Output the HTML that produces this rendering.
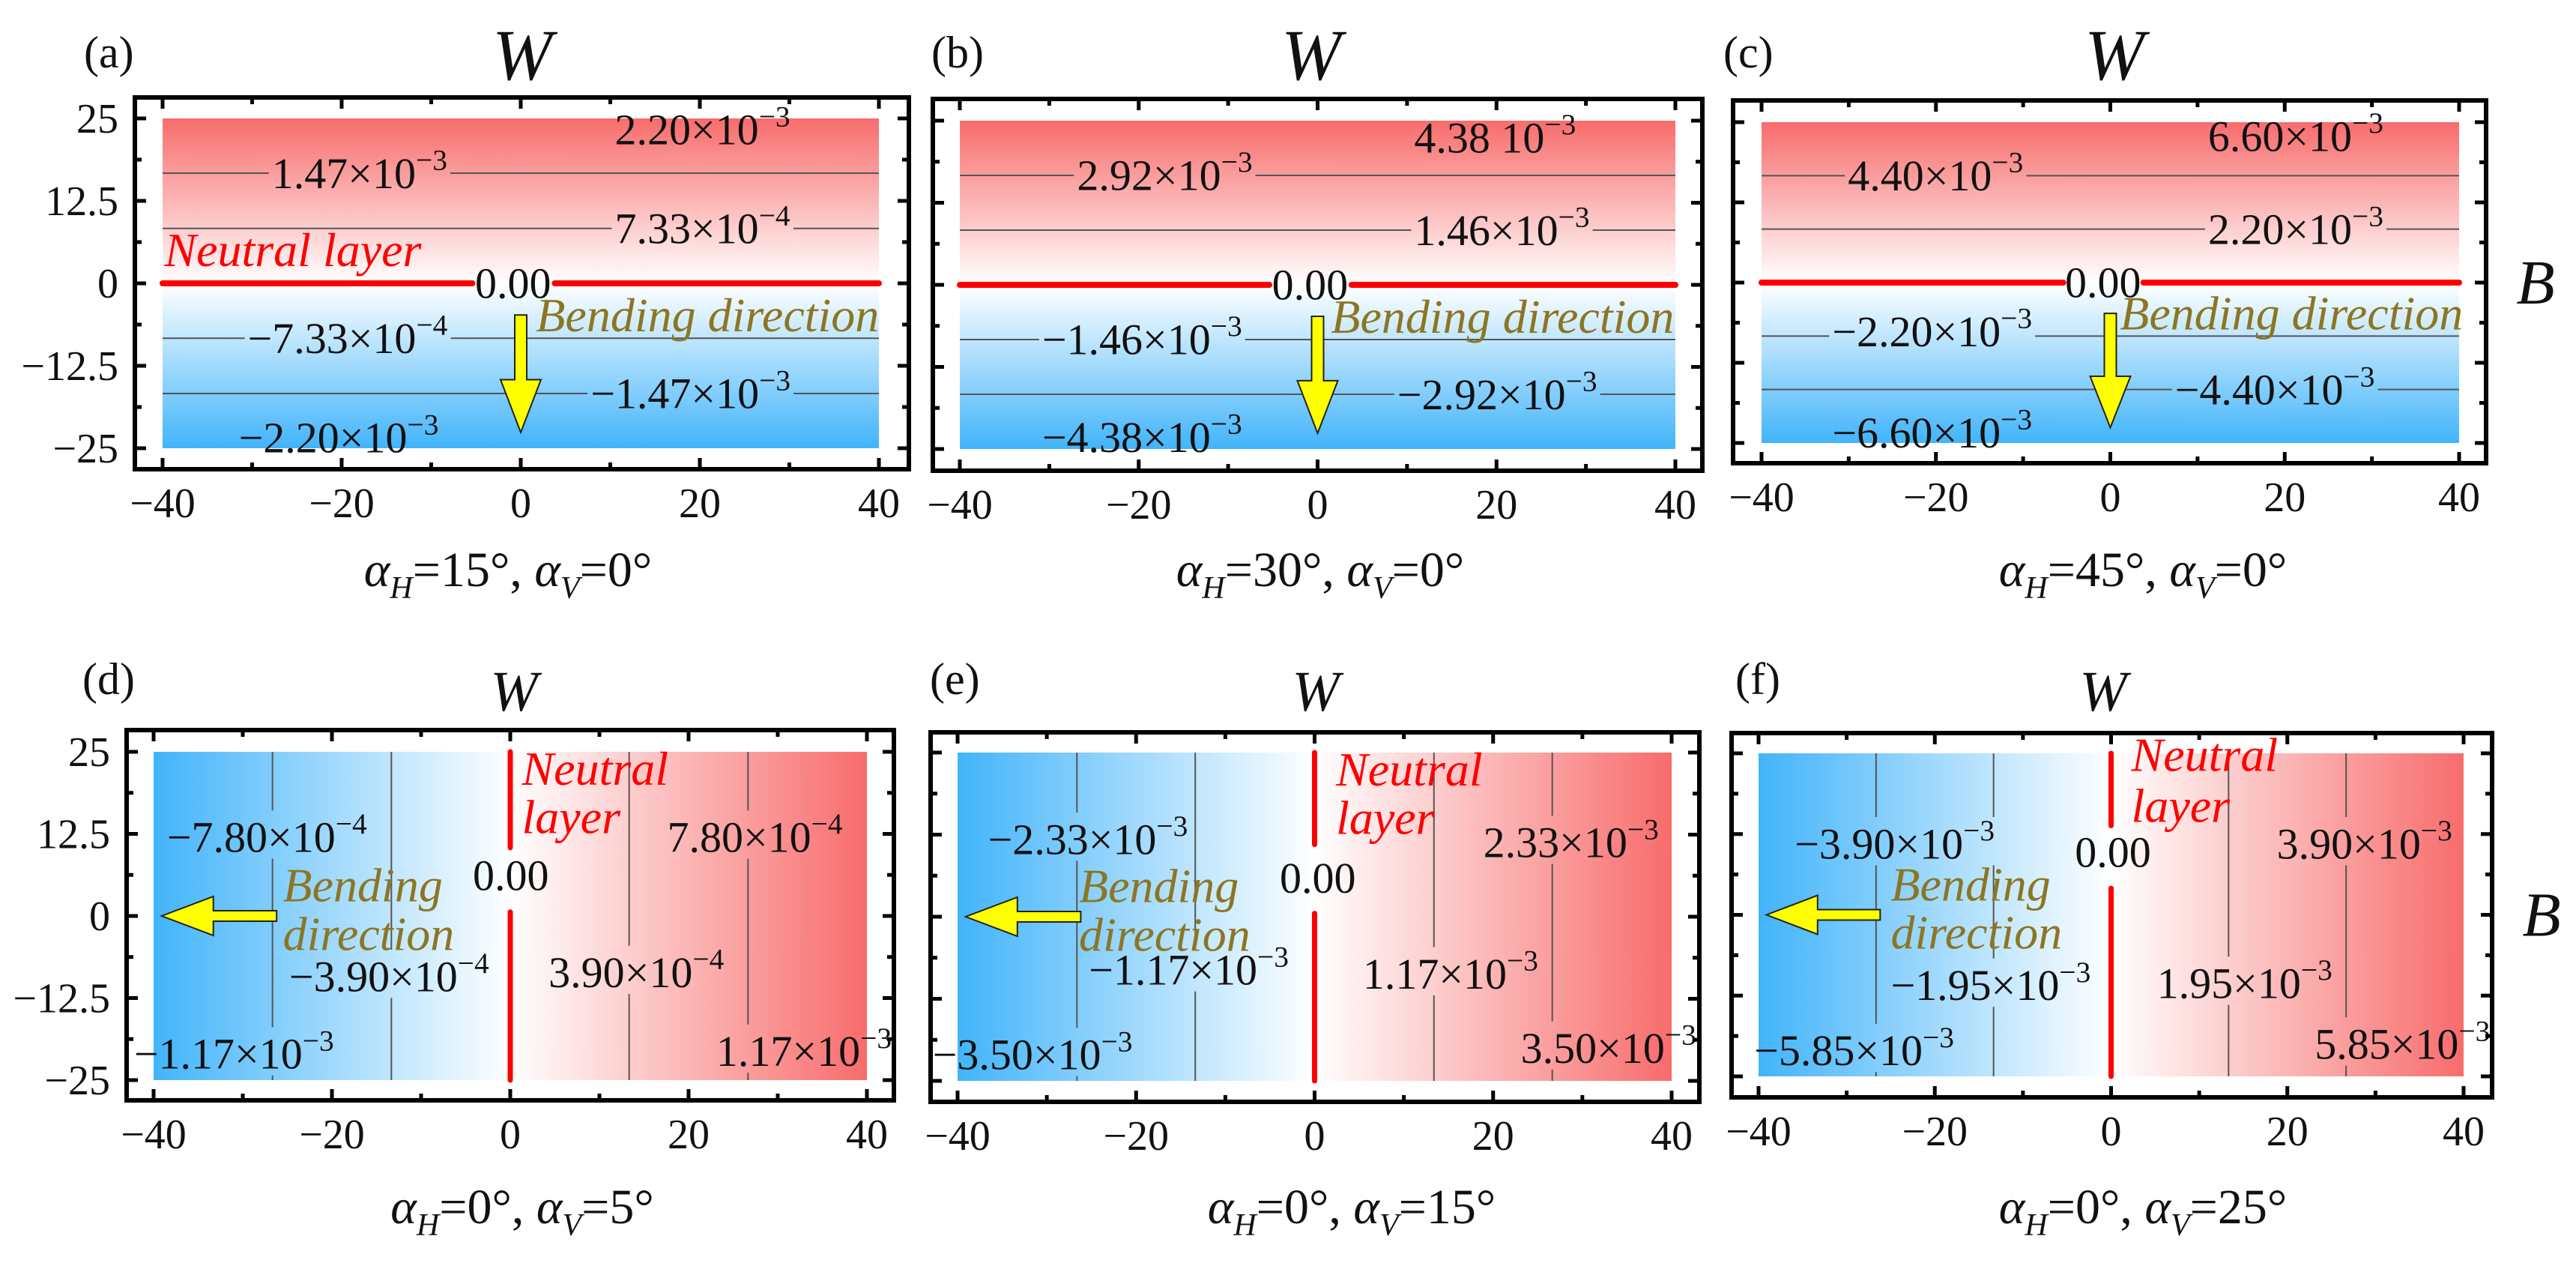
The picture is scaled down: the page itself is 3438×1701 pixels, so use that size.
<!DOCTYPE html>
<html><head><meta charset="utf-8">
<style>
html,body{margin:0;padding:0;background:#fff;}
svg, svg text{font-family:"Liberation Serif","Times New Roman",serif;}
</style></head>
<body>
<svg id="fig" xmlns="http://www.w3.org/2000/svg" width="3438" height="1696" viewBox="0 0 3438 1696" font-family="Liberation Serif, serif"></svg>
<script>
// ---------- data ----------
const panelLetters = ['a','b','c','d','e','f'];
const panelAlphaH = [15, 30, 45, 0, 0, 0];
const panelAlphaV = [0, 0, 0, 5, 15, 25];
const maxW = [2.20e-3, 4.38e-3, 6.60e-3, 1.17e-3, 3.50e-3, 5.85e-3];
const levelsA = [-1.47e-3, -7.33e-4, 7.33e-4, 1.47e-3];
const levelsB = [-2.92e-3, -1.46e-3, 1.46e-3, 2.92e-3];
const levelsC = [-4.40e-3, -2.20e-3, 2.20e-3, 4.40e-3];
const levelsD = [-7.80e-4, -3.90e-4, 3.90e-4, 7.80e-4];
const levelsE = [-2.33e-3, -1.17e-3, 1.17e-3, 2.33e-3];
const levelsF = [-3.90e-3, -1.95e-3, 1.95e-3, 3.90e-3];
const labelsA = [['2.20×10','−3',10.5,23.3],['1.47×10','−3',-27.8,16.7],['7.33×10','−4',10.5,8.3],['0.00','',-5.1,0],['−7.33×10','−4',-30.5,-8.3],['−1.47×10','−3',7.8,-16.7],['−2.20×10','−3',-31.5,-23.4]];
const labelsB = [['4.38  10','−3',10.8,22.4],['2.92×10','−3',-26.9,16.7],['1.46×10','−3',10.8,8.3],['0.00','',-5.1,0],['−1.46×10','−3',-30.8,-8.3],['−2.92×10','−3',8.9,-16.7],['−4.38×10','−3',-30.8,-23.2]];
const labelsC = [['6.60×10','−3',11.2,22.8],['4.40×10','−3',-30.1,16.7],['2.20×10','−3',11.2,8.3],['0.00','',-5.2,0],['−2.20×10','−3',-31.9,-7.6],['−4.40×10','−3',7.4,-16.7],['−6.60×10','−3',-31.9,-23.4]];
const labelsD = [['−7.80×10','−4',-38.5,12.0],['7.80×10','−4',17.6,12.0],['0.00','',-4.2,6.2],['−3.90×10','−4',-24.8,-9.2],['3.90×10','−4',4.3,-8.6],['−1.17×10','−3',-42.2,-21],['1.17×10','−3',23.1,-20.6]];
const labelsE = [['−2.33×10','−3',-36.6,11.8],['2.33×10','−3',18.9,11.3],['0.00','',-3.9,5.9],['−1.17×10','−3',-25.3,-8.1],['1.17×10','−3',5.4,-8.7],['−3.50×10','−3',-42.8,-21],['3.50×10','−3',23.1,-20]];
const labelsF = [['−3.90×10','−3',-35.9,11.0],['3.90×10','−3',18.8,11.0],['0.00','',-4.1,9.7],['−1.95×10','−3',-25.0,-10.9],['1.95×10','−3',5.2,-10.6],['−5.85×10','−3',-40.5,-21],['5.85×10','−3',23.1,-20]];
const xTicks = [-40, -20, 0, 20, 40];
const yTicks = [25, 12.5, 0, -12.5, -25];
const yTickLabels = ['25', '12.5', '0', '−12.5', '−25'];
const xTickLabels = ['−40', '−20', '0', '20', '40'];

// ---------- layout ----------
const layout = [
 {f:[180,130,1213,626], x0:217, x1:1173, yt:158, yb:598, row:0},
 {f:[1245,132,2272,628], x0:1281, x1:2236, yt:161, yb:599, row:0},
 {f:[2313,134,3318,618], x0:2351, x1:3282, yt:163, yb:591, row:0},
 {f:[169,974,1193,1468], x0:205, x1:1157, yt:1003, yb:1441, row:1},
 {f:[1242,977,2268,1470], x0:1278, x1:2231, yt:1004, yb:1442, row:1},
 {f:[2311,978,3326,1464], x0:2347, x1:3288, yt:1005, yb:1436, row:1}
];
const allLevels = [levelsA, levelsB, levelsC, levelsD, levelsE, levelsF];
const allLabels = [labelsA, labelsB, labelsC, labelsD, labelsE, labelsF];
const titleX = [697, 1750, 2822, 686, 1756, 2807];
const letterX = [112, 1243, 2300, 110, 1241, 2316];
const xlabX = [678, 1762, 2860, 697, 1804, 2860];
const FONT = 'Liberation Serif, serif';

const NS = 'http://www.w3.org/2000/svg';
const svg = document.getElementById('fig');
const defs = document.createElementNS(NS, 'defs');
svg.appendChild(defs);
function mk(tag, attrs, parent) {
  const e = document.createElementNS(NS, tag);
  for (const k in attrs) e.setAttribute(k, attrs[k]);
  if (tag === 'text') e.setAttribute('font-family', FONT);
  (parent || svg).appendChild(e);
  return e;
}

layout.forEach((L, i) => {
  const sx = v => L.x0 + (v + 40) / 80 * (L.x1 - L.x0);
  const sy = v => L.yt + (25 - v) / 50 * (L.yb - L.yt);
  const horiz = L.row === 0;
  const g = mk('g', {});
  
  

  const gid = 'grad' + i;
  const grad = mk('linearGradient', horiz ?
    {id: gid, gradientUnits: 'userSpaceOnUse', x1: 0, y1: sy(25), x2: 0, y2: sy(-25)} :
    {id: gid, gradientUnits: 'userSpaceOnUse', x1: sx(-40), y1: 0, x2: sx(40), y2: 0}, defs);
  const stops = horiz ?
    [[0,'rgb(248,108,108)'],[0.5,'#ffffff'],[1,'rgb(66,180,250)']] :
    [[0,'rgb(66,180,250)'],[0.5,'#ffffff'],[1,'rgb(248,108,108)']];
  stops.forEach(s => mk('stop', {offset: s[0], 'stop-color': s[1]}, grad));
  const fill = mk('rect', {x: sx(-40), y: sy(25), width: sx(40) - sx(-40), height: sy(-25) - sy(25), fill: 'url(#' + gid + ')'}, g);
  
  

  const lblG = mk('g', {});
  const maskId = 'mask' + i;
  const mask = mk('mask', {id: maskId, maskUnits: 'userSpaceOnUse', x: 0, y: 0, width: 3438, height: 1696}, defs);
  mk('rect', {x: 0, y: 0, width: 3438, height: 1696, fill: '#fff'}, mask);
  const fs = 58;
  allLabels[i].forEach(lb => {
    const t = mk('text', {x: sx(lb[2]), y: sy(lb[3]) + fs * 0.34, 'font-size': fs, fill: '#111'}, lblG);
    
    
    t.appendChild(document.createTextNode(lb[0]));
    if (lb[1]) {
      const sp = mk('tspan', {dy: -fs * 0.42, 'font-size': fs * 0.68}, t);
      sp.textContent = lb[1];
    }
    const bb = t.getBBox();
    mk('rect', {x: bb.x - 4, y: bb.y + 4, width: bb.width + 8, height: bb.height - 8, fill: '#000'}, mask);
  });

  const lineG = mk('g', {mask: 'url(#' + maskId + ')'}, g);
  allLevels[i].forEach(lv => {
    const pos = lv / maxW[i] * (horiz ? 25 : 40);
    const ln = horiz ?
      mk('line', {x1: sx(-40), x2: sx(40), y1: sy(pos), y2: sy(pos), stroke: '#555', 'stroke-width': 2}, lineG) :
      mk('line', {x1: sx(pos), x2: sx(pos), y1: sy(25), y2: sy(-25), stroke: '#555', 'stroke-width': 2}, lineG);
    
    
  });

  if (horiz) {
    [[-40,-5.4],[3.8,40]].forEach(s => {
      const r = mk('line', {x1: sx(s[0]), x2: sx(s[1]), y1: sy(0), y2: sy(0), stroke: '#ff0000', 'stroke-width': 8, 'stroke-linecap': 'round'}, g);
      
      
    });
  } else {
    const gapTop = [10.4, 11.0, 13.8][i - 3];
    const gapBot = [0.6, 0.5, 4.1][i - 3];
    [[25, gapTop],[gapBot, -25]].forEach(s => {
      const r = mk('line', {x1: sx(0), x2: sx(0), y1: sy(s[0]), y2: sy(s[1]), stroke: '#ff0000', 'stroke-width': 7, 'stroke-linecap': 'round'}, g);
      
      
    });
  }
  g.appendChild(lblG);

  const ann = 64;
  if (horiz) {
    if (i === 0) {
      const nl = mk('text', {x: sx(-39.8), y: sy(2.6), 'font-size': ann, 'font-style': 'italic', fill: '#ff0000'}, g);
      nl.textContent = 'Neutral layer';
      
      
    }
    const bdx = [1.7, 1.5, 1.1][i];
    const bd = mk('text', {x: sx(bdx), y: sy(-7.3), 'font-size': ann, 'font-style': 'italic', fill: 'rgb(140,118,35)'}, g);
    bd.textContent = 'Bending direction';
    
    
    const cx = sx(0), yt = sy(-4.8), yh = sy(-14.6), tip = sy(-22.6);
    const ar = mk('polygon', {points: `${cx-8},${yt} ${cx+8},${yt} ${cx+8},${yh} ${cx+27},${yh} ${cx},${tip} ${cx-27},${yh} ${cx-8},${yh}`, fill: '#ffff00', stroke: '#222', 'stroke-width': 2}, g);
    
    
  } else {
    const nx = [1.3, 2.4, 2.3][i - 3];
    const nb1 = [20, 20, 22.3][i - 3], nb2 = [12.6, 12.6, 14.4][i - 3];
    const n1 = mk('text', {x: sx(nx), y: sy(nb1), 'font-size': ann, 'font-style': 'italic', fill: '#ff0000'}, g);
    n1.textContent = 'Neutral';
    
    
    const n2 = mk('text', {x: sx(nx), y: sy(nb2), 'font-size': ann, 'font-style': 'italic', fill: '#ff0000'}, g);
    n2.textContent = 'layer';
    
    
    const bx = [-25.5, -26.4, -25][i - 3];
    const b1 = mk('text', {x: sx(bx), y: sy(2.2), 'font-size': ann, 'font-style': 'italic', fill: 'rgb(140,118,35)'}, g);
    b1.textContent = 'Bending';
    
    
    const b2 = mk('text', {x: sx(bx), y: sy(-5.2), 'font-size': ann, 'font-style': 'italic', fill: 'rgb(140,118,35)'}, g);
    b2.textContent = 'direction';
    
    
    const cy = sy(0), xt = sx(-26.2), xh = sx(-33.3), tip = sx(-39.1);
    const ar = mk('polygon', {points: `${xt},${cy-7} ${xt},${cy+7} ${xh},${cy+7} ${xh},${cy+26} ${tip},${cy} ${xh},${cy-26} ${xh},${cy-7}`, fill: '#ffff00', stroke: '#222', 'stroke-width': 2}, g);
    
    
  }

  const [fl, ft, fr, fb] = L.f;
  const fr_ = mk('rect', {x: fl, y: ft, width: fr - fl, height: fb - ft, fill: 'none', stroke: '#000', 'stroke-width': 6}, g);
  
  
  for (let v = -40; v <= 40; v += 10) {
    const len = (v % 20 === 0) ? 15 : 9;
    mk('line', {x1: sx(v), x2: sx(v), y1: fb, y2: fb - len, stroke: '#000', 'stroke-width': 5}, g);
    mk('line', {x1: sx(v), x2: sx(v), y1: ft, y2: ft + len, stroke: '#000', 'stroke-width': 5}, g);
  }
  for (let k = -4; k <= 4; k++) {
    const v = k * 6.25;
    const len = (k % 2 === 0) ? 15 : 9;
    mk('line', {x1: fl, x2: fl + len, y1: sy(v), y2: sy(v), stroke: '#000', 'stroke-width': 5}, g);
    mk('line', {x1: fr, x2: fr - len, y1: sy(v), y2: sy(v), stroke: '#000', 'stroke-width': 5}, g);
  }
  xTicks.forEach((v, k) => {
    const t = mk('text', {x: sx(v), y: fb + 64, 'font-size': 56, 'text-anchor': 'middle', fill: '#111'}, g);
    t.textContent = xTickLabels[k];
    
    
  });
  if (i === 0 || i === 3) {
    yTicks.forEach((v, k) => {
      const t = mk('text', {x: fl - 22, y: sy(v) + 19, 'font-size': 56, 'text-anchor': 'end', fill: '#111'}, g);
      t.textContent = yTickLabels[k];
      
      
    });
  }
  if (i === 2 || i === 5) {
    const t = mk('text', {x: fr + 66, y: sy(0) + 28, 'font-size': 84, 'text-anchor': 'middle', 'font-style': 'italic', fill: '#111'}, g);
    t.textContent = 'B';
    
    
  }
  const tt = mk('text', {x: titleX[i], y: horiz ? 106 : 948, 'font-size': horiz ? 96 : 76, 'text-anchor': 'middle', 'font-style': 'italic', fill: '#111'}, g);
  tt.textContent = 'W';
  
  
  const pl = mk('text', {x: letterX[i], y: horiz ? 90 : 926, 'font-size': 60, fill: '#111'}, g);
  pl.textContent = '(' + panelLetters[i] + ')';
  
  
  const xl = mk('text', {x: xlabX[i], y: horiz ? 782 : 1632, 'font-size': 66, 'text-anchor': 'middle', fill: '#111'}, g);
  
  
  const parts = [['α','italic',0],['H','italic',1],['=' + panelAlphaH[i] + '°, ','normal',0],['α','italic',0],['V','italic',1],['=' + panelAlphaV[i] + '°','normal',0]];
  let prevSub = false;
  parts.forEach(p => {
    const s = mk('tspan', {'font-style': p[1]}, xl);
    if (p[2]) { s.setAttribute('font-size', 42); s.setAttribute('dy', 16); }
    else if (prevSub) { s.setAttribute('dy', -16); }
    s.textContent = p[0];
    prevSub = !!p[2];
  });
});
</script>
</body></html>
